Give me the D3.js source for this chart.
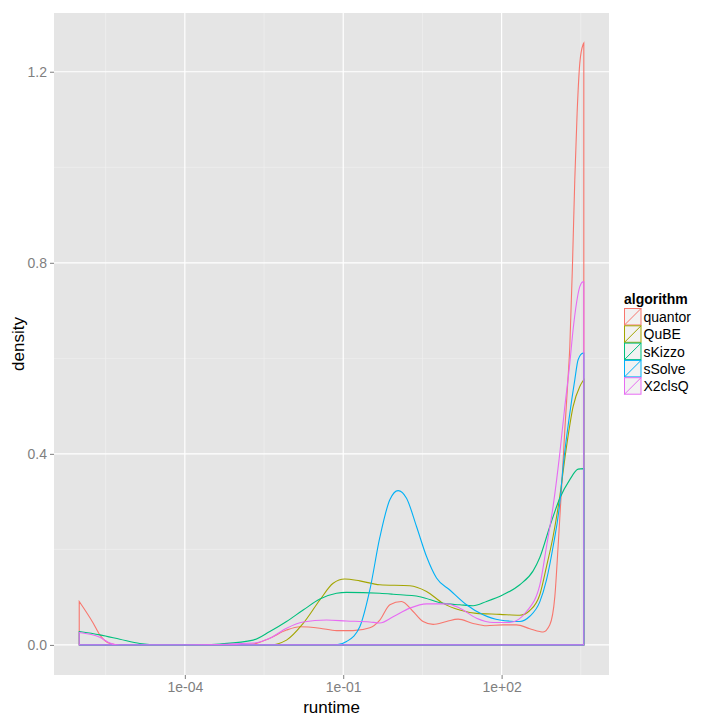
<!DOCTYPE html>
<html><head><meta charset="utf-8">
<script src="https://cdn.jsdelivr.net/npm/d3@7"></script>
<style>body{margin:0;background:#fff}svg{display:block;font-family:"Liberation Sans",Arial,sans-serif}</style>
</head><body>
<svg id="c" width="720" height="720"></svg>
<script>
// log10(runtime) positions and density values
const algorithms = ["quantor","QuBE","sKizzo","sSolve","X2clsQ"];
const colors = ["#F8766D","#A3A500","#00BF7D","#00B0F6","#E76BF3"];

const quantorX = [-6,-5.737,-5.61,-5.42,-5.231,-4.5,-3.337,-2.706,-2.39,-2.074,-1.822,-1.443,-1.127,-0.813,-0.496,-0.307,-0.117,0.104,0.324,0.513,0.703,0.956,1.176,1.46,1.714,2.028,2.282,2.534,2.723,2.786,2.913,3.008,3.07,3.134,3.197,3.259,3.292,3.343,3.386,3.43,3.481,3.543,3.557];
const quantorY = [0.091,0.046,0.021,0.003,0,0,0,0.002,0.014,0.031,0.038,0.035,0.030,0.030,0.036,0.052,0.084,0.091,0.070,0.049,0.043,0.049,0.054,0.045,0.040,0.042,0.042,0.034,0.028,0.027,0.042,0.101,0.206,0.325,0.450,0.560,0.625,0.799,0.974,1.113,1.218,1.257,1.26];

const qubeX = [-6,-4,-2.39,-2.074,-1.759,-1.443,-1.191,-0.97,-0.686,-0.307,0.261,0.578,0.892,1.208,1.525,1.966,2.345,2.534,2.723,2.85,2.975,3.102,3.229,3.354,3.481,3.543,3.557];
const qubeY = [0,0,0,0.010,0.045,0.094,0.129,0.138,0.134,0.126,0.124,0.112,0.087,0.073,0.066,0.064,0.062,0.072,0.105,0.164,0.227,0.311,0.415,0.499,0.541,0.553,0.555];

const skizzoX = [-6,-5.61,-5.231,-4.852,-4.5,-3.8,-3.337,-2.706,-2.39,-2.074,-1.759,-1.443,-1.127,-0.938,-0.307,-0.055,0.451,0.892,1.208,1.46,1.714,2.028,2.345,2.597,2.723,2.913,3.102,3.292,3.449,3.557];
const skizzoY = [0.028,0.021,0.012,0.003,0,0,0.002,0.010,0.028,0.049,0.073,0.096,0.108,0.110,0.108,0.106,0.101,0.087,0.084,0.082,0.091,0.105,0.126,0.155,0.183,0.248,0.307,0.346,0.368,0.369];

const ssolveX = [-6,-2,-1.127,-0.938,-0.686,-0.496,-0.307,-0.117,0.04,0.199,0.388,0.578,0.767,1.019,1.335,1.65,1.966,2.345,2.534,2.723,2.85,2.975,3.102,3.165,3.292,3.386,3.449,3.543,3.557];
const ssolveY = [0,0,0,0.007,0.038,0.115,0.225,0.304,0.323,0.307,0.248,0.185,0.140,0.115,0.084,0.063,0.052,0.049,0.060,0.090,0.136,0.206,0.297,0.373,0.485,0.555,0.597,0.611,0.611];

const x2clsqX = [-6,-5.61,-5.42,-5.231,-4,-2.706,-2.39,-2.074,-1.759,-1.316,-0.938,-0.496,-0.307,-0.055,0.261,0.578,0.956,1.208,1.525,1.839,2.155,2.472,2.723,2.85,2.975,3.102,3.197,3.292,3.354,3.419,3.481,3.543,3.557];
const x2clsqY = [0.026,0.016,0.004,0,0,0.004,0.014,0.035,0.048,0.052,0.050,0.048,0.046,0.059,0.077,0.086,0.086,0.077,0.056,0.047,0.047,0.070,0.125,0.206,0.290,0.401,0.499,0.590,0.660,0.716,0.750,0.760,0.760];

const xTicks = [1e-4, 1e-1, 1e2];
const xTickLabels = ["1e-04","1e-01","1e+02"];
const yTicks = [0, 0.4, 0.8, 1.2];
const yTickLabels = ["0.0","0.4","0.8","1.2"];

const seriesX = [quantorX, qubeX, skizzoX, ssolveX, x2clsqX];
const seriesY = [quantorY, qubeY, skizzoY, ssolveY, x2clsqY];

const L = 54, R = 609, T = 13, B = 675;
const svg = d3.select("#c");
const x = d3.scaleLog().domain([Math.pow(10,-6.478), Math.pow(10,4.034)]).range([L, R]);
const y = d3.scaleLinear().domain([-0.063, 1.323]).range([B, T]);

svg.append("rect").attr("x",L).attr("y",T).attr("width",R-L).attr("height",B-T).attr("fill","#E5E5E5");
// minor grid
const xMinor = [-5.5,-2.5,0.5,3.5].map(v=>Math.pow(10,v));
const yMinor = [0.2,0.6,1.0];
const g = svg.append("g");
xMinor.forEach(v=>g.append("line").attr("x1",x(v)).attr("x2",x(v)).attr("y1",T).attr("y2",B).attr("stroke","#F2F2F2").attr("stroke-width",0.6));
yMinor.forEach(v=>g.append("line").attr("y1",y(v)).attr("y2",y(v)).attr("x1",L).attr("x2",R).attr("stroke","#F2F2F2").attr("stroke-width",0.6));
xTicks.forEach(v=>g.append("line").attr("x1",x(v)).attr("x2",x(v)).attr("y1",T).attr("y2",B).attr("stroke","#fff").attr("stroke-width",1.2));
yTicks.forEach(v=>g.append("line").attr("y1",y(v)).attr("y2",y(v)).attr("x1",L).attr("x2",R).attr("stroke","#fff").attr("stroke-width",1.2));

// density outlines
const area = d3.area().x(d=>x(Math.pow(10,d[0]))).y0(y(0)).y1(d=>y(d[1])).curve(d3.curveMonotoneX);
algorithms.forEach((a,i)=>{
  const pts = seriesX[i].map((v,j)=>[v, seriesY[i][j]]);
  svg.append("path").attr("d", area(pts)).attr("fill","none").attr("stroke",colors[i]).attr("stroke-width",1.1);
});

// axes
const xAxis = svg.append("g").attr("transform",`translate(0,${B})`)
  .call(d3.axisBottom(x).tickValues(xTicks).tickFormat((d,i)=>xTickLabels[i]).tickSize(4).tickPadding(2));
const yAxis = svg.append("g").attr("transform",`translate(${L},0)`)
  .call(d3.axisLeft(y).tickValues(yTicks).tickFormat((d,i)=>yTickLabels[i]).tickSize(4).tickPadding(3));
[xAxis,yAxis].forEach(ax=>{
  ax.select(".domain").remove();
  ax.selectAll(".tick line").attr("stroke","#7F7F7F");
  ax.selectAll(".tick text").attr("fill","#7F7F7F").style("font-size","14px").style("font-family","Liberation Sans, Arial, sans-serif");
});
xAxis.selectAll(".tick text").attr("dy","0.8em");

svg.append("text").attr("x",(L+R)/2).attr("y",713).attr("text-anchor","middle").style("font-size","17px").text("runtime");
svg.append("text").attr("transform",`translate(24,${(T+B)/2}) rotate(-90)`).attr("text-anchor","middle").style("font-size","17px").text("density");

// legend
const lg = svg.append("g");
lg.append("text").attr("x",624).attr("y",304).style("font-size","14px").style("font-weight","bold").text("algorithm");
algorithms.forEach((a,i)=>{
  const ky = 308 + i*17.3;
  lg.append("rect").attr("x",624.5).attr("y",ky+0.5).attr("width",16.5).attr("height",16.5).attr("fill","#F2F2F2").attr("stroke",colors[i]).attr("stroke-width",1);
  lg.append("line").attr("x1",624.5).attr("y1",ky+17).attr("x2",641).attr("y2",ky+0.5).attr("stroke",colors[i]).attr("stroke-width",1);
  lg.append("text").attr("x",643.5).attr("y",ky+14).style("font-size","14px").text(a);
});
</script>
</body></html>
